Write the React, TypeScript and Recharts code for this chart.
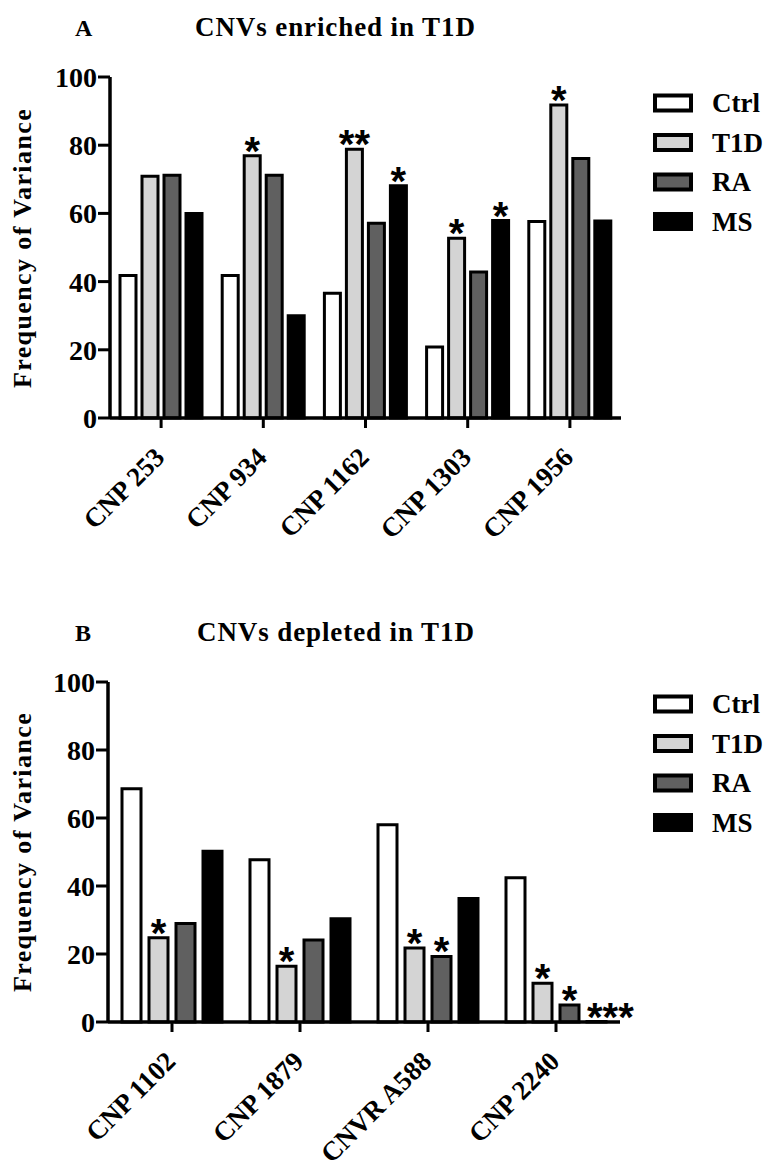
import React from 'react';
import { BarChart, Bar, XAxis, YAxis, LabelList } from 'recharts';

const SERIF = '"Liberation Serif", "Times New Roman", serif';
const SANS = '"Liberation Sans", Arial, sans-serif';

// Disease groups and their bar fills
const groups = ['Ctrl', 'T1D', 'RA', 'MS'];
const groupFill = ['#ffffff', '#d4d4d4', '#606060', '#000000'];

const yTicks = [0, 20, 40, 60, 80, 100];

// Panel A: CNVs enriched in T1D
const enrichedRegions = ['CNP 253', 'CNP 934', 'CNP 1162', 'CNP 1303', 'CNP 1956'];
const enrichedCtrl = [41.8, 41.8, 36.6, 20.8, 57.6];
const enrichedT1D = [70.9, 76.9, 78.8, 52.7, 91.8];
const enrichedRA = [71.2, 71.2, 57.1, 42.8, 76.1];
const enrichedMS = [60.0, 30.0, 68.1, 57.9, 57.8];
const enrichedCtrlMarks = ['', '', '', '', ''];
const enrichedT1DMarks = ['', '*', '**', '*', '*'];
const enrichedRAMarks = ['', '', '', '', ''];
const enrichedMSMarks = ['', '', '*', '*', ''];

// Panel B: CNVs depleted in T1D
const depletedRegions = ['CNP 1102', 'CNP 1879', 'CNVR A588', 'CNP 2240'];
const depletedCtrl = [68.6, 47.7, 58.0, 42.4];
const depletedT1D = [24.8, 16.4, 21.8, 11.4];
const depletedRA = [29.0, 24.1, 19.3, 5.0];
const depletedMS = [50.2, 30.4, 36.3, 0];
const depletedCtrlMarks = ['', '', '', ''];
const depletedT1DMarks = ['*', '*', '*', '*'];
const depletedRAMarks = ['', '', '*', '*'];
const depletedMSMarks = ['', '', '', '***'];

type Row = Record<string, string | number>;

function buildRows(
  regions: string[],
  values: number[][],
  marks: string[][]
): Row[] {
  return regions.map((region, i) => {
    const row: Row = { region };
    groups.forEach((g, k) => {
      row[g] = values[k][i];
      row[g + 'Mark'] = marks[k][i];
    });
    return row;
  });
}

const enrichedRows = buildRows(
  enrichedRegions,
  [enrichedCtrl, enrichedT1D, enrichedRA, enrichedMS],
  [enrichedCtrlMarks, enrichedT1DMarks, enrichedRAMarks, enrichedMSMarks]
);

const depletedRows = buildRows(
  depletedRegions,
  [depletedCtrl, depletedT1D, depletedRA, depletedMS],
  [depletedCtrlMarks, depletedT1DMarks, depletedRAMarks, depletedMSMarks]
);

const AngledTick = (props: any) => {
  const { x, y, payload } = props;
  return (
    <g transform={`translate(${x + 5},${y + 29})`}>
      <text
        textAnchor="end"
        transform="rotate(-45)"
        fontFamily={SERIF}
        fontWeight="bold"
        fontSize={27}
        fill="#000"
      >
        {payload.value}
      </text>
    </g>
  );
};

// Significance asterisks sitting on top of a bar; long runs start at the bar's left edge
const StarMark = (props: any) => {
  const vb = props.viewBox || props;
  const value = props.value;
  if (!value) return null;
  const long = String(value).length > 2;
  const x = long ? vb.x : vb.x + vb.width / 2;
  const top = Math.min(vb.y, vb.y + vb.height);
  return (
    <text
      x={x}
      y={top + 9}
      textAnchor={long ? 'start' : 'middle'}
      fontFamily={SANS}
      fontWeight="bold"
      fontSize={40}
      fill="#000"
    >
      {value}
    </text>
  );
};

interface PanelProps {
  top: number;
  height: number;
  rows: Row[];
  margin: { top: number; right: number; bottom: number; left: number };
  yAxisWidth: number;
  barSize: number;
  barGap: number;
  letter: string;
  title: string;
  headBaseline: number;
  titleX: number;
  legendTop: number;
}

function GroupLegend({ top }: { top: number }) {
  return (
    <svg
      width={129}
      height={170}
      style={{ position: 'absolute', left: 640, top, overflow: 'visible' }}
    >
      {groups.map((g, i) => {
        const cy = 12 + i * 39.5;
        return (
          <g key={g}>
            <rect
              x={15}
              y={cy - 7.5}
              width={36}
              height={15}
              fill={groupFill[i]}
              stroke="#000"
              strokeWidth={4}
            />
            <text
              x={72}
              y={cy + 9}
              fontFamily={SERIF}
              fontWeight="bold"
              fontSize={27}
              fill="#000"
            >
              {g}
            </text>
          </g>
        );
      })}
    </svg>
  );
}

function Panel(p: PanelProps) {
  const plotTop = p.margin.top;
  const plotBottom = p.height - p.margin.bottom - 130;
  const yMid = p.top + (plotTop + plotBottom) / 2;
  return (
    <>
      <svg
        width={769}
        height={60}
        style={{ position: 'absolute', left: 0, top: p.top + p.headBaseline - 45 }}
      >
        <text
          x={75}
          y={45}
          fontFamily={SERIF}
          fontWeight="bold"
          fontSize={24}
          fill="#000"
        >
          {p.letter}
        </text>
        <text
          x={p.titleX}
          y={45}
          fontFamily={SERIF}
          fontWeight="bold"
          fontSize={27}
          letterSpacing={0.9}
          fill="#000"
        >
          {p.title}
        </text>
      </svg>
      <svg
        width={60}
        height={340}
        style={{ position: 'absolute', left: 0, top: yMid - 170 }}
      >
        <text
          transform={`translate(31,170) rotate(-90)`}
          textAnchor="middle"
          fontFamily={SERIF}
          fontWeight="bold"
          fontSize={26}
          letterSpacing={1.4}
          fill="#000"
        >
          Frequency of Variance
        </text>
      </svg>
      <div style={{ position: 'absolute', left: 0, top: p.top }}>
        <BarChart
          width={769}
          height={p.height}
          data={p.rows}
          margin={p.margin}
          barGap={p.barGap}
        >
          <XAxis
            dataKey="region"
            interval={0}
            height={130}
            tickSize={10}
            axisLine={{ stroke: '#000', strokeWidth: 3.5 }}
            tickLine={{ stroke: '#000', strokeWidth: 3 }}
            tick={<AngledTick />}
          />
          <YAxis
            width={p.yAxisWidth}
            domain={[0, 100]}
            ticks={yTicks}
            interval={0}
            tickSize={12}
            tickMargin={1}
            axisLine={{ stroke: '#000', strokeWidth: 3.5 }}
            tickLine={{ stroke: '#000', strokeWidth: 3 }}
            tick={{
              fill: '#000',
              fontSize: 28,
              fontWeight: 'bold',
              fontFamily: SERIF,
            }}
          />
          {groups.map((g, k) => (
            <Bar
              key={g}
              dataKey={g}
              fill={groupFill[k]}
              stroke="#000"
              strokeWidth={3}
              barSize={p.barSize}
              minPointSize={0.5}
              isAnimationActive={false}
            >
              <LabelList dataKey={g + 'Mark'} content={<StarMark />} />
            </Bar>
          ))}
        </BarChart>
      </div>
      <GroupLegend top={p.top + p.legendTop} />
    </>
  );
}

export default function App() {
  return (
    <div
      style={{
        position: 'absolute',
        left: 0,
        top: 0,
        width: 769,
        height: 1160,
        background: '#fff',
        overflow: 'hidden',
      }}
    >
      <Panel
        top={0}
        height={560}
        rows={enrichedRows}
        margin={{ top: 77, right: 148, bottom: 12, left: 0 }}
        yAxisWidth={110}
        barSize={16}
        barGap={6}
        letter="A"
        title="CNVs enriched in T1D"
        headBaseline={36}
        titleX={195}
        legendTop={91}
      />
      <Panel
        top={560}
        height={600}
        rows={depletedRows}
        margin={{ top: 122, right: 149, bottom: 8, left: 0 }}
        yAxisWidth={108}
        barSize={19}
        barGap={8}
        letter="B"
        title="CNVs depleted in T1D"
        headBaseline={81}
        titleX={197}
        legendTop={132}
      />
    </div>
  );
}
